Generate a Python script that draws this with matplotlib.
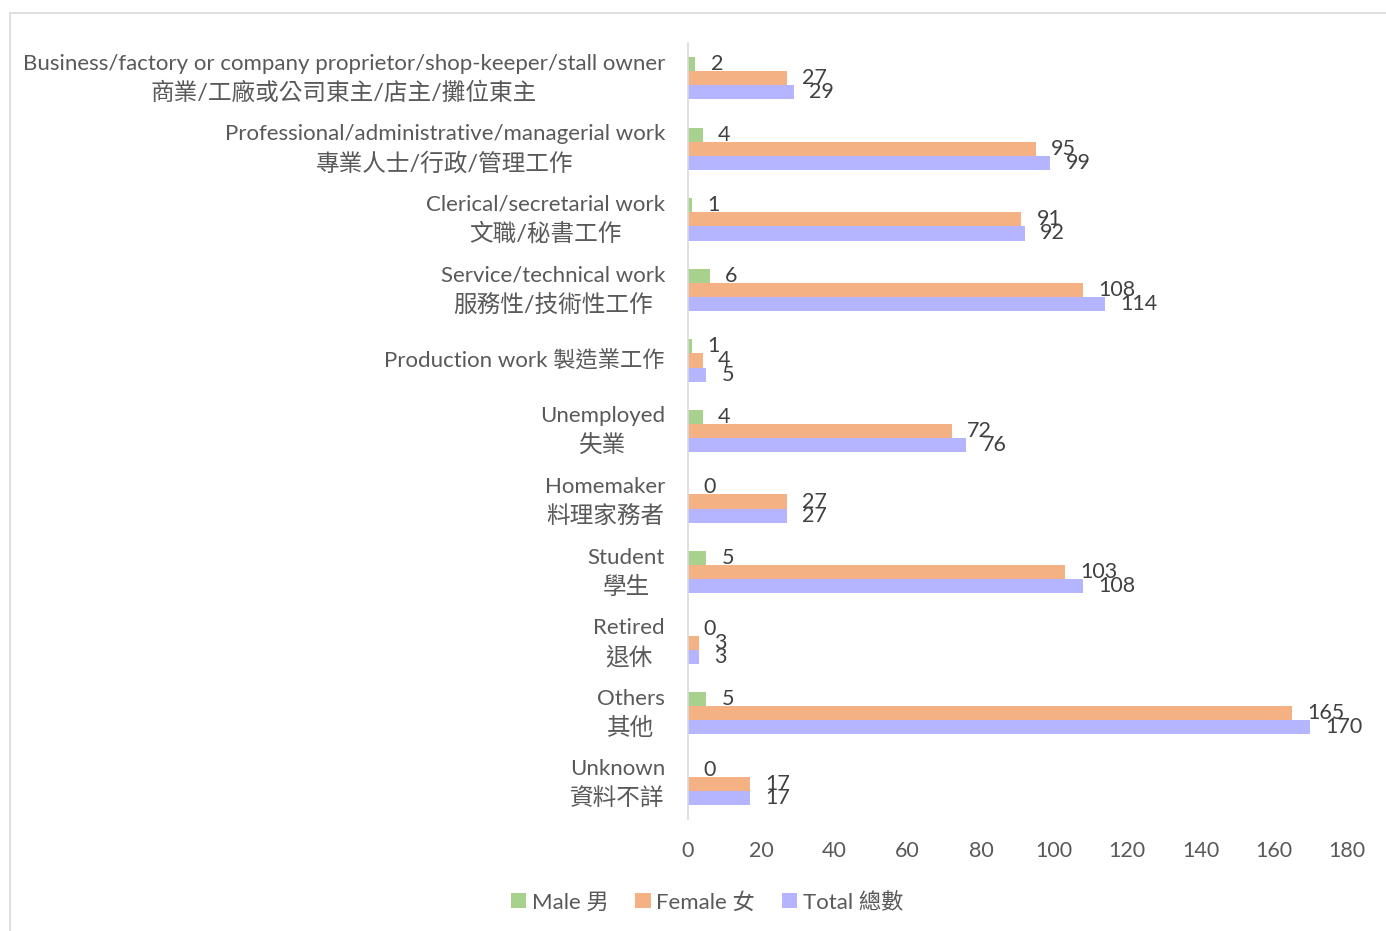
import matplotlib
matplotlib.use("Agg")
import matplotlib.pyplot as plt
from matplotlib.patches import Rectangle
import numpy as np

plt.rcParams['font.family'] = ['Lato', 'Noto Sans CJK TC', 'DejaVu Sans']

categories_en = [
    "Business/factory or company proprietor/shop-keeper/stall owner",
    "Professional/administrative/managerial work",
    "Clerical/secretarial work",
    "Service/technical work",
    "Production work 製造業工作",
    "Unemployed",
    "Homemaker",
    "Student",
    "Retired",
    "Others",
    "Unknown",
]
categories_zh = [
    "商業/工廠或公司東主/店主/攤位東主",
    "專業人士/行政/管理工作",
    "文職/秘書工作",
    "服務性/技術性工作",
    "",
    "失業",
    "料理家務者",
    "學生",
    "退休",
    "其他",
    "資料不詳",
]
male = [2, 4, 1, 6, 1, 4, 0, 5, 0, 5, 0]
female = [27, 95, 91, 108, 4, 72, 27, 103, 3, 165, 17]
total = [29, 99, 92, 114, 5, 76, 27, 108, 3, 170, 17]
series_names = ["Male 男", "Female 女", "Total 總數"]
colors = ["#A9D18E", "#F4B183", "#B4B4FF"]
xticks = list(range(0, 181, 20))

W, H = 1386, 931
DPI = 100
fig = plt.figure(figsize=(W / DPI, H / DPI), dpi=DPI)
ax = fig.add_axes([688 / W, 1 - 819 / H, (1347 - 688) / W, (819 - 43) / H])

# chart frame
fig.patches.append(Rectangle((10 / W, -0.1), 1.2, 1 - 13 / H + 0.1,
                             transform=fig.transFigure, fill=False,
                             edgecolor="#D9D9D9", linewidth=1.2))

y = np.arange(len(categories_en))
h = 0.2
label_color = "#404040"
text_color = "#595959"
for k, (vals, name, c) in enumerate(zip([male, female, total], series_names, colors)):
    pos = y + (k - 1) * h
    ax.barh(pos, vals, height=h, color=c, label=name)
    for p, v in zip(pos, vals):
        ax.annotate(str(v), xy=(v, p), xytext=(11, 0), textcoords="offset points",
                    ha="left", va="center", fontsize=15.5, color=label_color)

ax.set_ylim(len(categories_en) - 0.5, -0.5)
ax.set_xlim(0, 180)
ax.set_xticks(xticks)
ax.set_xticklabels([str(t) for t in xticks])
ax.set_yticks(y)
ax.set_yticklabels([])
ax.tick_params(axis="x", length=0, pad=16, labelsize=15.5, labelcolor=text_color)
ax.tick_params(axis="y", length=0)
for s in ["top", "right", "bottom"]:
    ax.spines[s].set_visible(False)
ax.spines["left"].set_color("#D9D9D9")
ax.spines["left"].set_linewidth(1.2)

# category labels: English line above Chinese line, centred on each other,
# block right-aligned against the axis
renderer = fig.canvas.get_renderer()
pad_pt = 23 * 72 / DPI
line_off = 14.5 * 72 / DPI
ytrans = ax.get_yaxis_transform()
for i, (en, zh) in enumerate(zip(categories_en, categories_zh)):
    if not zh:
        ax.annotate(en, xy=(0, i), xycoords=ytrans, xytext=(-pad_pt, 0),
                    textcoords="offset points", ha="right", va="center",
                    fontsize=16, color=text_color, annotation_clip=False)
        continue
    t_en = ax.annotate(en, xy=(0, i), xycoords=ytrans, xytext=(0, line_off),
                       textcoords="offset points", ha="center", va="center",
                       fontsize=16, color=text_color, annotation_clip=False)
    t_zh = ax.annotate(zh, xy=(0, i), xycoords=ytrans, xytext=(0, -line_off),
                       textcoords="offset points", ha="center", va="center",
                       fontsize=17, color=text_color, annotation_clip=False)
    wmax = max(t_en.get_window_extent(renderer).width,
               t_zh.get_window_extent(renderer).width) * 72 / DPI
    cx = -pad_pt - wmax / 2
    t_en.set_position((cx, line_off))
    t_zh.set_position((cx, -line_off))

fig.legend(loc="center", bbox_to_anchor=(707 / W, 1 - 902 / H), ncol=3, frameon=False,
           fontsize=16, handlelength=0.7, handleheight=0.7, handletextpad=0.25,
           columnspacing=1.2, labelcolor=text_color)

fig.savefig("out.png", dpi=DPI)
